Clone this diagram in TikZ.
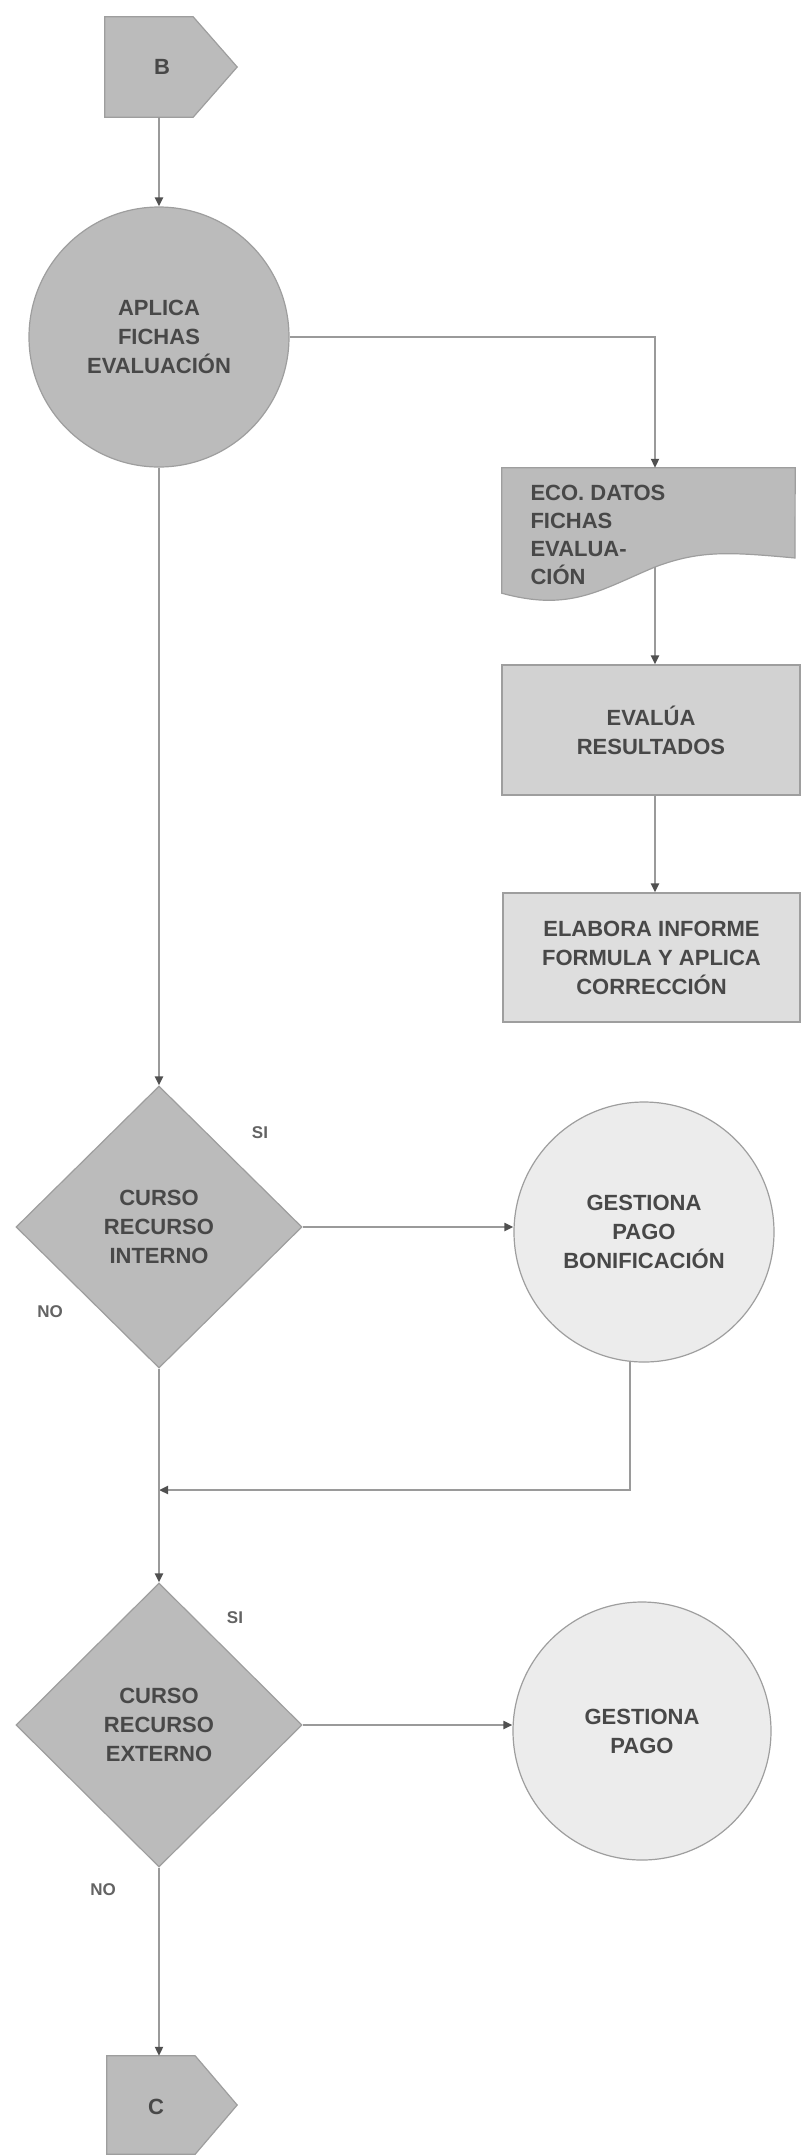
\documentclass[tikz,border=0pt]{standalone}
\usepackage{fontspec}
\setmainfont{Liberation Sans}
\usetikzlibrary{shapes.geometric,arrows.meta,calc}
\definecolor{txt}{HTML}{484848}
\definecolor{gdark}{HTML}{BBBBBB}
\definecolor{gmid}{HTML}{D2D2D2}
\definecolor{glight}{HTML}{DEDEDE}
\definecolor{gpale}{HTML}{ECECEC}
\definecolor{gborder}{HTML}{9E9E9E}
\definecolor{lineg}{HTML}{9A9A9A}
\definecolor{arrowc}{HTML}{505050}
\begin{document}
\begin{tikzpicture}[x=1pt,y=-1pt,
  lbl/.style={font=\bfseries\fontsize{22}{29}\selectfont, text=txt, align=center},
  small/.style={font=\bfseries\fontsize{17}{20}\selectfont, text=txt!85},
  darkfill/.style={fill=gdark, draw=gborder, line width=1.2pt},
  midfill/.style={fill=gmid, draw=gborder, line width=1.2pt},
  lightfill/.style={fill=glight, draw=gborder, line width=1.2pt},
  palefill/.style={fill=gpale, draw=gborder, line width=1.2pt},
  conn/.style={draw=lineg, line width=2pt, -{Triangle[length=9pt,width=8pt,color=arrowc]}},
  plain/.style={draw=none, inner sep=0pt}
]
\useasboundingbox (0,0) rectangle (802,2156);

% B connector
\node[plain, minimum width=88pt, minimum height=100pt] (Brect) at (149,67) {};
\filldraw[darkfill] (Brect.north west) -- (Brect.north east) -- ($(Brect.east)+(44,0)$) -- (Brect.south east) -- (Brect.south west) -- cycle;
\node[lbl] (B) at (162,67) {B};

% Aplica
\node[circle, darkfill, minimum size=260pt, inner sep=0pt, lbl] (aplica) at (159,337) {APLICA\\FICHAS\\EVALUACIÓN};

% Document
\node[plain, minimum width=293pt, minimum height=125pt] (ecobox) at (648.5,530.5) {};
\coordinate (ecob) at (655,567);
\filldraw[darkfill] (ecobox.north west) -- (ecobox.north east) -- (795,558)
  .. controls (730,552) and (700,550) .. (ecob)
  .. controls (600,590) and (570,612) .. (ecobox.south west) -- cycle;
\node[lbl, align=left, anchor=west, font=\bfseries\fontsize{22}{28}\selectfont] (eco) at (527,535) {ECO. DATOS\\FICHAS\\EVALUA-\\CIÓN};

% Boxes
\node[rectangle, midfill, minimum width=298pt, minimum height=130pt, lbl] (evalua) at (651,730) {EVALÚA\\RESULTADOS};
\node[rectangle, lightfill, minimum width=297pt, minimum height=129pt, lbl] (elabora) at (651.5,957.5) {ELABORA INFORME\\FORMULA Y APLICA\\CORRECCIÓN};

% Decision 1
\node[diamond, darkfill, minimum width=286pt, minimum height=282pt, inner sep=0pt, lbl] (d1) at (159,1227) {CURSO\\RECURSO\\INTERNO};
\node[small] (si1) at (260,1133) {SI};
\node[small] (no1) at (50,1312) {NO};

\node[circle, palefill, minimum size=260pt, inner sep=0pt, lbl] (bonif) at (644,1232) {GESTIONA\\PAGO\\BONIFICACIÓN};

\coordinate (j) at (159,1490);

% Decision 2
\node[diamond, darkfill, minimum width=286pt, minimum height=284pt, inner sep=0pt, lbl] (d2) at (159,1725) {CURSO\\RECURSO\\EXTERNO};
\node[small] (si2) at (235,1618) {SI};
\node[small] (no2) at (103,1890) {NO};

\node[circle, palefill, minimum size=258pt, inner sep=0pt, lbl] (pago) at (642,1731) {GESTIONA\\PAGO};

% C connector
\node[plain, minimum width=88pt, minimum height=98pt] (Crect) at (151,2105) {};
\filldraw[darkfill] (Crect.north west) -- (Crect.north east) -- ($(Crect.east)+(42,0)$) -- (Crect.south east) -- (Crect.south west) -- cycle;
\node[lbl] (C) at (156,2107) {C};

% Connectors
\draw[conn] (Brect.south -| aplica.north) -- (aplica.north);
\draw[conn] (aplica.east) -| ($(ecobox.north)+(6.5,0)$);
\draw[conn] (ecob) -- (ecob |- evalua.north);
\draw[conn] (evalua.south -| ecob) -- (elabora.north -| ecob);
\draw[conn] (aplica.south) -- (d1.north);
\draw[conn] (d1.east) -- (d1.east -| bonif.west);
\draw[conn] (bonif.264) |- (j);
\draw[conn] (d1.south) -- (d2.north);
\draw[conn] (d2.east) -- (d2.east -| pago.west);
\draw[conn] (d2.south) -- (Crect.north -| d2.south);
\end{tikzpicture}
\end{document}
